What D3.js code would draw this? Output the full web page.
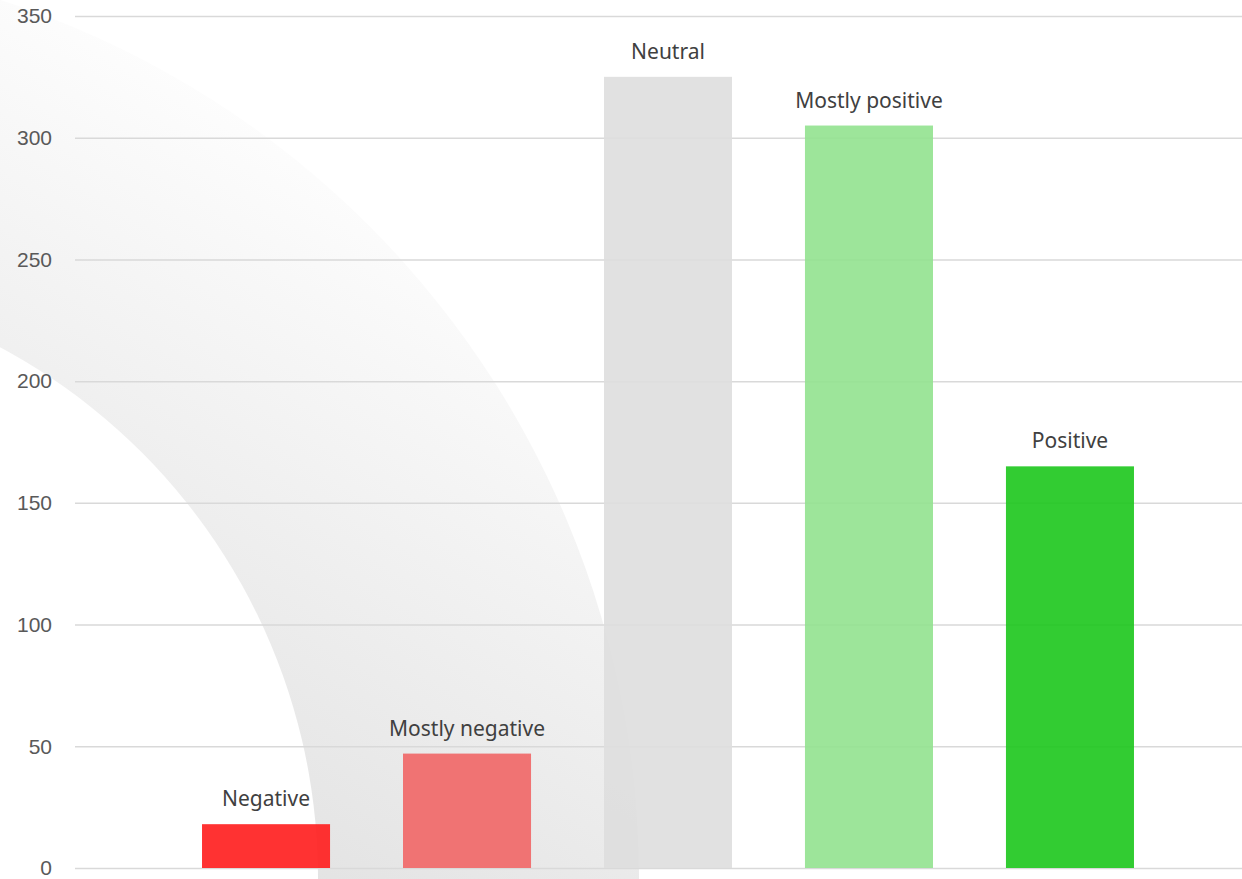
<!DOCTYPE html>
<html>
<head>
<meta charset="utf-8">
<script src="https://cdn.jsdelivr.net/npm/d3@7"></script>
<style>
  html, body { margin: 0; padding: 0; background: #ffffff; }
  svg { display: block; font-family: "Noto Sans", "Open Sans", sans-serif; }
</style>
</head>
<body>
<div id="chart"></div>
<script>
// chart data
const categories = ["Negative", "Mostly negative", "Neutral", "Mostly positive", "Positive"];
const counts = [18, 47, 325, 305, 165];
const barColors = ["#ff1c1c", "#f16666", "#dedede", "#92e28f", "#1cc61c"];
const yTicks = [0, 50, 100, 150, 200, 250, 300, 350];

const width = 1242, height = 879;
const margin = {top: 16, right: 0, bottom: 11, left: 75};

const svg = d3.select("#chart").append("svg")
    .attr("width", width)
    .attr("height", height);

// decorative background swoosh (centre sits off-canvas, bottom left)
const swooshCx = -284, swooshCy = 878;
const defs = svg.append("defs");
const grad = defs.append("linearGradient")
    .attr("id", "swoosh")
    .attr("gradientUnits", "userSpaceOnUse")
    .attr("x1", 500 - swooshCx).attr("y1", 200 - swooshCy)
    .attr("x2", 150 - swooshCx).attr("y2", 800 - swooshCy);
grad.append("stop").attr("offset", 0).attr("stop-color", "#ffffff");
grad.append("stop").attr("offset", 1).attr("stop-color", "#e3e3e3");

const swoosh = d3.arc()
    .innerRadius(602)
    .outerRadius(923)
    .startAngle(-0.1)
    .endAngle(Math.PI / 2 + 0.1);

svg.append("path")
    .attr("transform", `translate(${swooshCx},${swooshCy})`)
    .attr("d", swoosh())
    .attr("fill", "url(#swoosh)");

// scales
const y = d3.scaleLinear()
    .domain([0, 350])
    .range([height - margin.bottom, margin.top]);

const x = d3.scaleBand()
    .domain(categories)
    .range([margin.left, 1261])
    .paddingInner(0.363)
    .paddingOuter(0.632);

// gridlines
const yAxis = d3.axisLeft(y)
    .tickValues(yTicks)
    .tickSize(-(width - margin.left))
    .tickPadding(23)
    .tickFormat(d3.format("d"));

const yAxisG = svg.append("g")
    .attr("class", "axis y-axis")
    .attr("transform", `translate(${margin.left},0)`)
    .call(yAxis);

yAxisG.select(".domain").remove();
yAxisG.selectAll(".tick line")
    .attr("stroke", "#d9d9d9")
    .attr("stroke-width", 1.5);
yAxisG.selectAll(".tick text")
    .attr("fill", "#595959")
    .style("font-size", "21px");

// bars
svg.selectAll(".bar")
    .data(categories)
    .join("rect")
    .attr("class", "bar")
    .attr("x", d => x(d))
    .attr("y", (d, i) => y(counts[i]))
    .attr("width", x.bandwidth())
    .attr("height", (d, i) => y(0) - y(counts[i]))
    .attr("fill", (d, i) => barColors[i])
    .attr("fill-opacity", 0.9);

// category labels above bars
svg.selectAll(".bar-label")
    .data(categories)
    .join("text")
    .attr("class", "bar-label")
    .attr("x", d => x(d) + x.bandwidth() / 2)
    .attr("y", (d, i) => y(counts[i]) - 18)
    .attr("text-anchor", "middle")
    .attr("fill", "#404040")
    .style("font-size", "21px")
    .text(d => d);
</script>
</body>
</html>
